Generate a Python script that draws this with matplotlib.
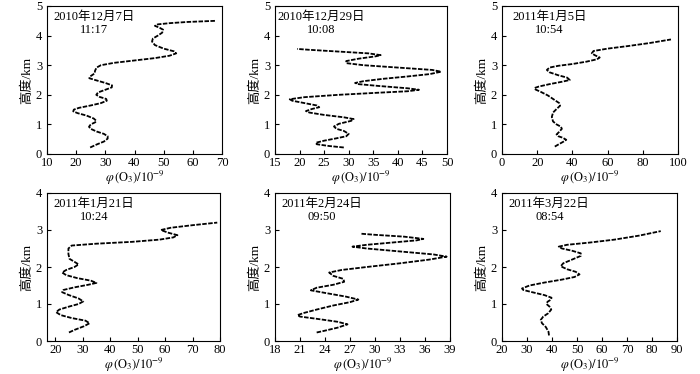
import numpy as np
import matplotlib
matplotlib.use('Agg')
import matplotlib.pyplot as plt

plt.rcParams['font.family'] = ['Liberation Serif', 'Noto Sans CJK SC', 'DejaVu Sans']
plt.rcParams['mathtext.fontset'] = 'stix'

# panel titles (date / launch time)
titles = ['2010年12月7日\n11:17', '2010年12月29日\n10:08', '2011年1月5日\n10:54',
          '2011年1月21日\n10:24', '2011年2月24日\n09:50', '2011年3月22日\n08:54']

# profile 1: O3 mixing ratio (1e-9) vs height (km)
x1 = [24.8, 27, 29.5, 30.8, 30.8, 29.5, 27, 25, 24.4, 25, 26.5, 26.9, 26, 23.5, 20.5, 19, 19.2,
      21, 25, 28.5, 30.5, 30.3, 28, 26.9, 27.5, 30, 32.2, 32.3, 30, 26.5, 24.5, 24.8, 26.3,
      26.5, 27, 28.5, 33, 40, 47, 52, 54.3, 53.5, 50, 47, 46, 46.3, 48, 49.5, 49.8, 48.5,
      47, 48, 52, 58, 63, 68]
y1 = [0.22, 0.32, 0.42, 0.52, 0.6, 0.68, 0.76, 0.85, 0.92, 1.0, 1.07, 1.12, 1.2, 1.3, 1.38, 1.44, 1.5,
      1.56, 1.64, 1.72, 1.8, 1.86, 1.93, 2.0, 2.08, 2.17, 2.25, 2.32, 2.4, 2.5, 2.56, 2.62, 2.72,
      2.82, 2.92, 3.0, 3.08, 3.16, 3.24, 3.32, 3.4, 3.47, 3.56, 3.68, 3.8, 3.9, 4.0, 4.1, 4.2, 4.27,
      4.33, 4.38, 4.42, 4.46, 4.48, 4.5]

# profile 2
x2 = [29, 26, 23.5, 23.3, 25, 27.5, 29.5, 30, 29, 27.5, 27, 28, 30.5, 31, 29, 25, 22, 21.3,
      22.5, 24, 23.5, 21, 18.5, 18, 21, 28, 36, 42, 44.3, 42, 36, 32, 31.3, 33, 37, 42,
      46.5, 48.8, 47, 40, 33, 29.5, 29.5, 32, 35.5, 36.5, 34, 28, 22, 19.5]
y2 = [0.22, 0.27, 0.33, 0.38, 0.45, 0.53, 0.6, 0.68, 0.78, 0.85, 0.93, 1.02, 1.12, 1.18, 1.24, 1.32, 1.4, 1.45,
      1.52, 1.58, 1.64, 1.72, 1.8, 1.85, 1.92, 2.0, 2.07, 2.12, 2.17, 2.22, 2.3, 2.36, 2.4, 2.46, 2.54, 2.62,
      2.7, 2.78, 2.84, 2.92, 3.0, 3.07, 3.14, 3.22, 3.3, 3.34, 3.4, 3.46, 3.52, 3.55]

# profile 3
x3 = [30, 32, 35, 36.5, 34.5, 32, 31, 32.5, 34, 33.5, 31, 29, 28.3, 29, 31, 33, 32.5, 30, 26,
      22, 19, 18.5, 21, 27, 34, 38.5, 37, 32, 27, 25.5, 27, 32, 40, 48, 54, 55.5, 53, 51, 52,
      60, 72, 84, 96]
y3 = [0.25, 0.32, 0.42, 0.48, 0.55, 0.6, 0.66, 0.75, 0.85, 0.92, 1.0, 1.1, 1.25, 1.4, 1.52, 1.63, 1.72, 1.82, 1.98,
      2.1, 2.18, 2.23, 2.28, 2.36, 2.44, 2.5, 2.58, 2.66, 2.76, 2.84, 2.92, 2.98, 3.04, 3.12, 3.2, 3.26, 3.33, 3.4, 3.48,
      3.56, 3.65, 3.75, 3.87]

# profile 4
x4 = [25, 27, 30.5, 32.5, 31, 26, 22, 20.3, 21.5, 25, 28.5, 30.2, 28.5, 25, 22.5, 23, 27, 32,
      35, 33, 28, 24, 22.5, 24, 27, 28.5, 27, 25.2, 24.8, 24.8, 26, 35, 48, 58, 63, 64.5,
      61, 58.5, 62, 70, 79]
y4 = [0.23, 0.3, 0.4, 0.48, 0.55, 0.62, 0.7, 0.78, 0.85, 0.93, 1.0, 1.07, 1.15, 1.24, 1.32, 1.38, 1.45, 1.52,
      1.57, 1.63, 1.7, 1.78, 1.85, 1.92, 2.0, 2.07, 2.14, 2.22, 2.35, 2.5, 2.58, 2.63, 2.68, 2.74, 2.8, 2.86,
      2.93, 3.0, 3.06, 3.13, 3.2]

# profile 5
x5 = [23, 24, 25.5, 26.7, 25.5, 23, 21, 20.7, 21.5, 23, 25, 27, 28, 26.5, 24, 22.3, 23, 25,
      26.3, 26.2, 25, 24.5, 26, 29, 33, 36.5, 38.6, 37, 33, 29, 27.3, 29, 32, 35, 35.8, 33.5,
      30, 28.3]
y5 = [0.23, 0.28, 0.36, 0.45, 0.52, 0.6, 0.66, 0.7, 0.76, 0.85, 0.96, 1.05, 1.12, 1.2, 1.3, 1.37, 1.44, 1.52,
      1.6, 1.68, 1.76, 1.85, 1.92, 2.0, 2.1, 2.2, 2.28, 2.34, 2.42, 2.5, 2.55, 2.6, 2.66, 2.72, 2.76, 2.82,
      2.87, 2.9]

# profile 6
x6 = [38.8, 38.6, 37.5, 36, 35.5, 36.5, 38.5, 39.7, 39, 37.8, 38.2, 39.6, 39.8, 37, 32, 28.5, 28,
      31, 37, 44, 49, 51, 49.5, 46, 43.5, 44.5, 48, 51.5, 51.5, 48, 44, 42.7, 46, 55, 65, 75, 83.5]
y6 = [0.15, 0.25, 0.38, 0.48, 0.57, 0.66, 0.75, 0.85, 0.93, 1.0, 1.06, 1.12, 1.17, 1.24, 1.32, 1.38, 1.42,
      1.5, 1.58, 1.66, 1.73, 1.8, 1.87, 1.94, 2.02, 2.1, 2.2, 2.3, 2.37, 2.44, 2.5, 2.55, 2.6, 2.66, 2.74, 2.85, 2.97]

xs = [x1, x2, x3, x4, x5, x6]
ys = [y1, y2, y3, y4, y5, y6]

xlims = [(10, 70), (15, 50), (0, 100), (17, 80), (18, 39), (20, 90)]
xticks = [np.arange(10, 71, 10), np.arange(15, 51, 5), np.arange(0, 101, 20),
          np.arange(20, 81, 10), np.arange(18, 40, 3), np.arange(20, 91, 10)]
ytop = [5, 5, 5, 4, 4, 4]

# axes boxes in pixels (left, width)
lefts = [47, 275, 502, 47, 275, 502]
widths = [175, 172, 176, 173, 175, 175]

fig = plt.figure(figsize=(7, 3.74), dpi=100)

for i in range(6):
    if i < 3:
        bottom = 1 - 154 / 374
    else:
        bottom = 1 - 341 / 374
    ax = fig.add_axes([lefts[i] / 700, bottom, widths[i] / 700, 148 / 374])
    ax.plot(xs[i], ys[i], color='black', linewidth=1.3, linestyle=(0, (2.5, 0.8)))
    ax.set_xlim(xlims[i])
    ax.set_ylim(0, ytop[i])
    ax.set_xticks(xticks[i])
    ax.set_yticks(np.arange(0, ytop[i] + 1, 1))
    ax.tick_params(direction='in', length=3, labelsize=9, pad=3.5)
    ax.tick_params(axis='x', pad=2)
    ax.set_xlabel(r'$\varphi\,(\mathrm{O_3})/10^{-9}$', fontsize=9, labelpad=0)
    ax.set_ylabel('高度/km', fontsize=9.5, labelpad=2)
    ax.text(0.27, 0.97, titles[i], transform=ax.transAxes, ha='center', va='top',
            multialignment='center', fontsize=9, linespacing=1.15)

fig.savefig('out.png', dpi=100)
